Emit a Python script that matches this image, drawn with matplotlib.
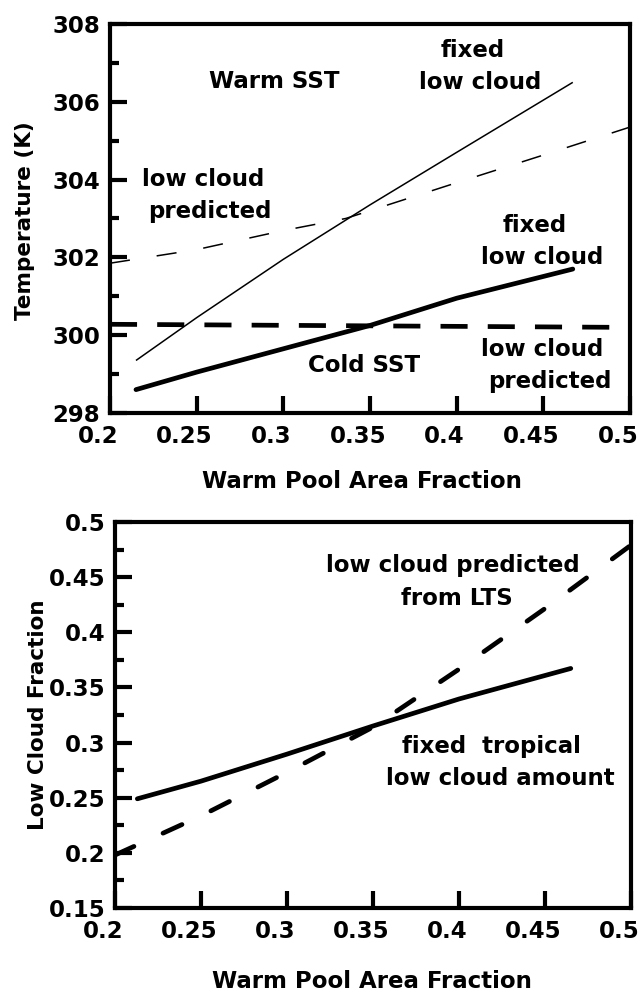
import matplotlib
matplotlib.use("Agg")
import matplotlib.pyplot as plt
from matplotlib.ticker import MultipleLocator, FixedLocator, FuncFormatter
from matplotlib.transforms import ScaledTranslation

plt.rcParams["font.family"] = ["DejaVu Sans"]
plt.rcParams["font.weight"] = "bold"
plt.rcParams["axes.labelweight"] = "bold"
plt.rcParams["lines.scale_dashes"] = False

# --- top panel: SST vs warm pool area fraction ---
warm_x = [0.215, 0.25, 0.3, 0.35, 0.4, 0.467]
warm_fixed = [299.35, 300.45, 301.95, 303.35, 304.7, 306.5]
warm_pred_x = [0.2, 0.25, 0.3, 0.336, 0.4, 0.45, 0.5]
warm_pred = [301.85, 302.2, 302.69, 303.0, 303.92, 304.63, 305.35]
cold_x = [0.215, 0.25, 0.3, 0.35, 0.4, 0.467]
cold_fixed = [298.6, 299.05, 299.65, 300.25, 300.95, 301.7]
cold_pred_x = [0.2, 0.5]
cold_pred = [300.28, 300.2]

# --- bottom panel: low cloud fraction ---
lcf_x = [0.213, 0.25, 0.3, 0.35, 0.4, 0.465]
lcf_fixed = [0.249, 0.265, 0.2895, 0.315, 0.3395, 0.3672]
lcf_pred_x = [0.2, 0.25, 0.3, 0.35, 0.4, 0.45, 0.5]
lcf_pred = [0.198, 0.2335, 0.273, 0.314, 0.3665, 0.4215, 0.479]

x_ticks = [0.2, 0.25, 0.3, 0.35, 0.4, 0.45, 0.5]

FS = 16.5
THICK = 3.4
THIN = 1.1


def style_axes(ax, fig):
    for s in ax.spines.values():
        s.set_linewidth(3.0)
    ax.tick_params(which="both", direction="in", top=False, right=False,
                   width=3.0, labelsize=FS)
    ax.tick_params(which="major", length=12)
    ax.tick_params(which="minor", length=6.5)
    ax.tick_params(axis="x", pad=9)
    ax.tick_params(axis="y", pad=7)
    ax.xaxis.set_major_locator(FixedLocator(x_ticks))
    ax.xaxis.set_major_formatter(FuncFormatter(lambda v, p: f"{v:g}"))
    ax.set_xlim(0.2, 0.5)
    # tick labels in the original sit a little left of their ticks
    shift = ScaledTranslation(-0.12, 0, fig.dpi_scale_trans)
    for lab in ax.get_xticklabels():
        lab.set_transform(lab.get_transform() + shift)


fig = plt.figure(figsize=(6.42, 9.92), dpi=100)

ax1 = fig.add_axes([0.1713, 0.5837, 0.810, 0.3921])
ax1.set_ylim(298, 308)
ax1.yaxis.set_major_locator(MultipleLocator(2))
ax1.yaxis.set_minor_locator(MultipleLocator(1))
ax1.yaxis.set_major_formatter(FuncFormatter(lambda v, p: f"{v:g}"))
style_axes(ax1, fig)

ax1.plot(warm_x, warm_fixed, color="black", lw=THIN, solid_capstyle="butt")
ax1.plot(warm_pred_x, warm_pred, color="black", lw=THIN, dashes=(14.5, 19.5))
ax1.plot(cold_x, cold_fixed, color="black", lw=THICK, solid_capstyle="round")
ax1.plot(cold_pred_x, cold_pred, color="black", lw=THICK, dashes=(19.5, 14.5))

top_texts = [
    ("Warm SST", 0.295, 306.53),
    ("fixed", 0.4093, 307.31),
    ("low cloud", 0.4134, 306.49),
    ("low cloud", 0.2538, 303.99),
    ("predicted", 0.2574, 303.17),
    ("fixed", 0.4452, 302.83),
    ("low cloud", 0.4493, 302.0),
    ("Cold SST", 0.3464, 299.21),
    ("low cloud", 0.4493, 299.64),
    ("predicted", 0.4536, 298.82),
]
for s, x, y in top_texts:
    ax1.text(x, y, s, fontsize=FS, ha="center", va="center")

ax1.set_xlabel("Warm Pool Area Fraction", fontsize=FS)
ax1.xaxis.set_label_coords(0.484, -0.177)
ax1.xaxis.label.set_verticalalignment("center")
ax1.set_ylabel("Temperature (K)", fontsize=15.5)
ax1.yaxis.set_label_coords(-0.163, 0.494)
ax1.yaxis.label.set_verticalalignment("center")

ax2 = fig.add_axes([0.1791, 0.0847, 0.8037, 0.3891])
ax2.set_ylim(0.15, 0.5)
ax2.yaxis.set_major_locator(MultipleLocator(0.05))
ax2.yaxis.set_minor_locator(MultipleLocator(0.025))
ax2.yaxis.set_major_formatter(FuncFormatter(lambda v, p: f"{v:g}"))
style_axes(ax2, fig)

ax2.plot(lcf_x, lcf_fixed, color="black", lw=THICK, solid_capstyle="round")
ax2.plot(lcf_pred_x, lcf_pred, color="black", lw=THICK, dashes=(15, 23),
         dash_capstyle="round")

bottom_texts = [
    ("low cloud predicted", 0.3967, 0.4608),
    ("from LTS", 0.399, 0.4306),
    ("fixed  tropical", 0.4189, 0.2963),
    ("low cloud amount", 0.4242, 0.2677),
]
for s, x, y in bottom_texts:
    ax2.text(x, y, s, fontsize=FS, ha="center", va="center")

ax2.set_xlabel("Warm Pool Area Fraction", fontsize=FS)
ax2.xaxis.set_label_coords(0.498, -0.19)
ax2.xaxis.label.set_verticalalignment("center")
ax2.set_ylabel("Low Cloud Fraction", fontsize=15.5)
ax2.yaxis.set_label_coords(-0.149, 0.5)
ax2.yaxis.label.set_verticalalignment("center")

fig.savefig("out.png", dpi=100)
